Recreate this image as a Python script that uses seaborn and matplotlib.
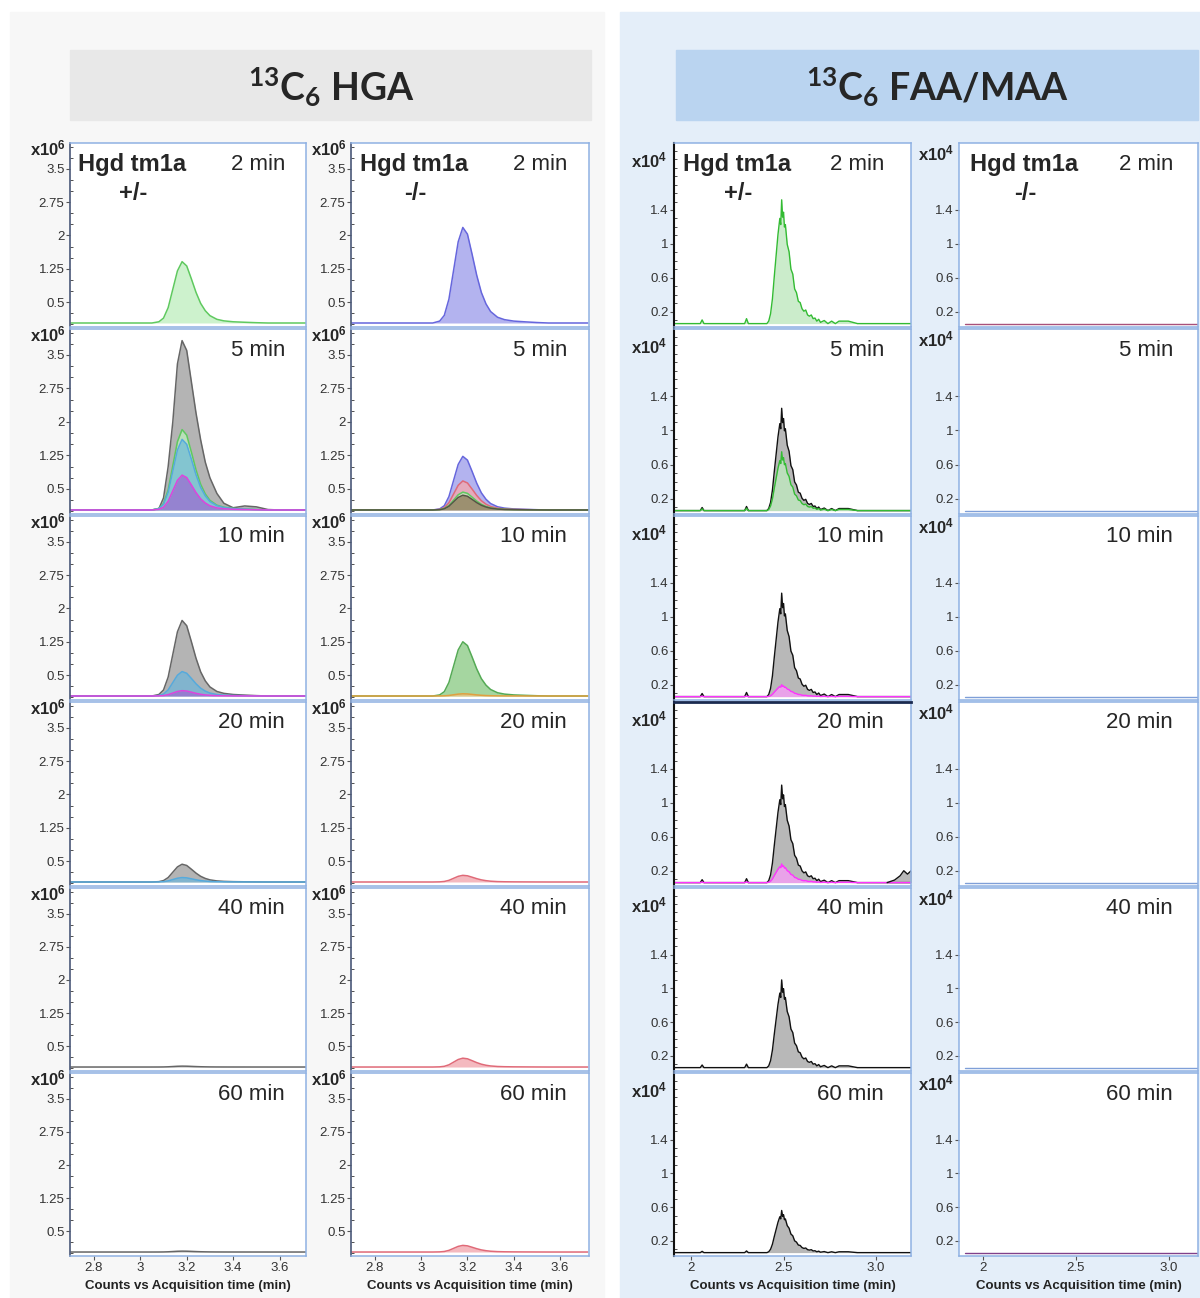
import numpy as np
import matplotlib
matplotlib.use('Agg')
import matplotlib.pyplot as plt
from matplotlib.patches import Rectangle
from matplotlib.ticker import MultipleLocator
import seaborn as sns

sns.set_style('white')
plt.rcParams['font.family'] = ['Liberation Sans', 'DejaVu Sans']
plt.rcParams['mathtext.default'] = 'regular'

W, H = 1200, 1298

# --- data ---
time_labels = ['2 min', '5 min', '10 min', '20 min', '40 min', '60 min']
genotypes = ['+/-', '-/-', '+/-', '-/-']

# HGA chromatograms (x10^6 counts)
hga_time = [2.70, 2.90, 3.00, 3.05, 3.08, 3.10, 3.12, 3.14, 3.16, 3.18, 3.20, 3.22,
            3.24, 3.26, 3.28, 3.30, 3.33, 3.36, 3.40, 3.45, 3.50, 3.55, 3.60, 3.72]
hga_shape = [0, 0, 0, 0, 0.02, 0.08, 0.25, 0.55, 0.85, 1.0, 0.93, 0.72,
             0.50, 0.32, 0.20, 0.12, 0.06, 0.035, 0.02, 0.012, 0.005, 0, 0, 0]
gray_5min = [0.03, 0.03, 0.03, 0.03, 0.06, 0.30, 1.00, 2.00, 3.30, 3.82, 3.60, 2.90,
             2.20, 1.60, 1.10, 0.75, 0.40, 0.18, 0.08, 0.12, 0.10, 0.04, 0.03, 0.03]
hga_base = 0.03

# FAA/MAA chromatograms (x10^4 counts)
faa_time = [1.90, 2.00, 2.05, 2.06, 2.07, 2.20, 2.29, 2.30, 2.31, 2.41,
            2.42, 2.43, 2.44, 2.45, 2.46, 2.47, 2.48, 2.485, 2.49, 2.495,
            2.50, 2.505, 2.51, 2.52, 2.53, 2.54, 2.55, 2.56, 2.57, 2.58,
            2.59, 2.60, 2.61, 2.62, 2.63, 2.64, 2.65, 2.66, 2.67, 2.68,
            2.69, 2.70, 2.72, 2.74, 2.76, 2.78, 2.80, 2.85, 2.90, 2.95,
            3.00, 3.05, 3.10, 3.15, 3.20]
faa_shape = [0, 0, 0, 0.03, 0, 0, 0, 0.04, 0, 0,
             0.02, 0.08, 0.20, 0.38, 0.55, 0.72, 0.85, 0.80, 1.00, 0.86,
             0.90, 0.78, 0.80, 0.64, 0.58, 0.44, 0.40, 0.28, 0.25, 0.18,
             0.17, 0.12, 0.10, 0.11, 0.07, 0.06, 0.07, 0.04, 0.045, 0.02,
             0.035, 0.01, 0.025, 0.0, 0.02, 0.0, 0.02, 0.02, 0, 0,
             0, 0, 0, 0, 0]
faa_base = 0.06
tail_time = [3.06, 3.10, 3.13, 3.15, 3.17, 3.20]
tail_black = [0.06, 0.09, 0.14, 0.20, 0.16, 0.22]

# (trace, peak height) for each row, per column
hga_het = [
    [('green', 1.38)],
    [('gray5', 1.0), ('green', 1.80), ('lblue', 1.58), ('magenta', 0.78)],
    [('gray', 1.70), ('lblue', 0.55), ('magenta', 0.12)],
    [('gray', 0.40), ('lblue', 0.10)],
    [('gray', 0.02)],
    [('gray', 0.02)],
]
hga_ko = [
    [('violet', 2.15)],
    [('violet', 1.20), ('red', 0.65), ('green', 0.40), ('brown', 0.33)],
    [('green2', 1.22), ('orange', 0.05)],
    [('red', 0.15)],
    [('red', 0.20)],
    [('red', 0.15)],
]
faa_het = [
    [('fgreen', 1.46)],
    [('black', 1.20), ('fgreen', 0.69)],
    [('black', 1.22), ('fmag', 0.14)],
    [('black', 1.15), ('fmag', 0.22)],
    [('black', 1.04)],
    [('black', 0.50)],
]
faa_ko = [[('flat_red', 0.0)], [('flat_blue', 0.0)], [('flat_blue', 0.0)],
          [('flat_blue', 0.0)], [('flat_blue', 0.0)], [('flat_purple', 0.0)]]

# line colour, fill colour, fill alpha
styles = {
    'green': ('#5fc95f', '#bdeebd', 0.75),
    'green2': ('#55aa55', '#a5d6a0', 1.0),
    'lblue': ('#55aadd', '#5fb5e0', 0.6),
    'magenta': ('#dd44dd', '#a060d0', 0.65),
    'gray': ('#666666', '#b4b4b4', 1.0),
    'gray5': ('#666666', '#b4b4b4', 1.0),
    'violet': ('#6666dd', '#b3b3ef', 1.0),
    'red': ('#e06a78', '#f2a8b0', 0.8),
    'brown': ('#555544', '#8a7050', 0.7),
    'orange': ('#e0a040', '#f0c080', 0.8),
    'fgreen': ('#33bb33', '#bfe8bf', 0.8),
    'black': ('#111111', '#b8b8b8', 1.0),
    'fmag': ('#ff33ff', '#ff99ff', 0.7),
    'flat_red': ('#a8507a', '#ffffff', 0.0),
    'flat_blue': ('#7f9fd8', '#ffffff', 0.0),
    'flat_purple': ('#80408a', '#ffffff', 0.0),
}

cols = [(70, 306), (351, 589), (674, 911), (959, 1198)]
rows = [(143, 327), (329, 514), (516, 700), (702, 886), (888, 1071), (1073, 1256)]
xlims = [(2.697, 3.714), (2.697, 3.725), (1.908, 3.189), (1.870, 3.157)]

fig = plt.figure(figsize=(W / 100, H / 100), dpi=100)

# section backgrounds and header boxes
fig.patches.append(Rectangle((10 / W, 0), 594 / W, 1 - 12 / H, transform=fig.transFigure,
                             color='#f7f7f7', zorder=-10))
fig.patches.append(Rectangle((620 / W, 0), 580 / W, 1 - 12 / H, transform=fig.transFigure,
                             color='#e4eef9', zorder=-10))
fig.patches.append(Rectangle((70 / W, 1 - 120 / H), 521 / W, 70 / H, transform=fig.transFigure,
                             color='#e8e8e8', zorder=-9))
fig.patches.append(Rectangle((676 / W, 1 - 120 / H), 522 / W, 70 / H, transform=fig.transFigure,
                             color='#bad4f0', zorder=-9))
fig.text(331 / W, 1 - 87 / H, r'$^{13}$C$_6$ HGA', family=['Lato', 'DejaVu Sans'],
         weight='bold', fontsize=27, ha='center', va='center')
fig.text(937 / W, 1 - 87 / H, r'$^{13}$C$_6$ FAA/MAA', family=['Lato', 'DejaVu Sans'],
         weight='bold', fontsize=27, ha='center', va='center')


def draw_trace(ax, kind, h, is_faa):
    line, fill, alpha = styles[kind]
    if is_faa:
        t = np.array(faa_time)
        y = faa_base + h * np.array(faa_shape)
        base = faa_base
        if kind.startswith('flat'):
            y = np.full(len(t), 0.05)
    else:
        t = np.array(hga_time)
        base = hga_base
        if kind == 'gray5':
            y = np.array(gray_5min)
        else:
            y = hga_base + h * np.array(hga_shape)
    if alpha > 0:
        ax.fill_between(t, base, y, color=fill, alpha=alpha, lw=0)
    sns.lineplot(x=t, y=y, ax=ax, color=line, lw=1.1 if not is_faa else 1.0,
                 estimator=None, sort=False)


panel_sets = [hga_het, hga_ko, faa_het, faa_ko]
exp_pos = [(66, 5, 'x10$^6$'), (347, 5, 'x10$^6$'), (667, 17, 'x10$^4$'), (954, 10, 'x10$^4$')]
label_left = [78, 360, 683, 970]
geno_x = [133, 415, 738, 1025]
time_right = [285, 567, 884, 1173]

for c, (x0, x1) in enumerate(cols):
    is_faa = c >= 2
    for r, (y0, y1) in enumerate(rows):
        ax = fig.add_axes([x0 / W, 1 - y1 / H, (x1 - x0) / W, (y1 - y0) / H])
        ax.set_facecolor('white')
        for kind, h in panel_sets[c][r]:
            draw_trace(ax, kind, h, is_faa)
        if c == 2 and r == 3:
            ax.fill_between(tail_time, faa_base, tail_black, color='#b8b8b8', lw=0)
            sns.lineplot(x=tail_time, y=tail_black, ax=ax, color='#111111', lw=1.0,
                         estimator=None, sort=False)

        ax.set_xlim(*xlims[c])
        if is_faa:
            ax.set_ylim(0.02, 2.19)
            ax.set_yticks([0.2, 0.6, 1, 1.4])
            ax.set_yticklabels(['0.2', '0.6', '1', '1.4'])
            ax.yaxis.set_minor_locator(MultipleLocator(0.1))
            ax.set_xticks([2, 2.5, 3.0])
            ax.set_xticklabels(['2', '2.5', '3.0'])
        else:
            ax.set_ylim(-0.06, 4.08)
            ax.set_yticks([0.5, 1.25, 2, 2.75, 3.5])
            ax.set_yticklabels(['0.5', '1.25', '2', '2.75', '3.5'])
            ax.yaxis.set_minor_locator(MultipleLocator(0.25))
            ax.set_xticks([2.8, 3, 3.2, 3.4, 3.6])
            ax.set_xticklabels(['2.8', '3', '3.2', '3.4', '3.6'])
        ax.set_xlabel('')
        ax.set_ylabel('')

        for s in ax.spines.values():
            s.set_visible(True)
            s.set_color('#8fb1e3')
            s.set_linewidth(1.1)
        if c < 2:
            ax.spines['left'].set_color('#4a5878')
            ax.spines['left'].set_linewidth(1.2)
        elif c == 2:
            ax.spines['left'].set_color('#111111')
            ax.spines['left'].set_linewidth(1.5)
        if c == 2 and r == 3:
            ax.spines['top'].set_color('#1a2a50')
            ax.spines['top'].set_linewidth(2)

        ax.tick_params(axis='y', which='major', left=True, direction='out', length=3,
                       width=0.8, color='#555555', labelsize=9.5, labelcolor='#333333', pad=1)
        ax.tick_params(axis='y', which='minor', left=(c < 3), direction='in', length=2,
                       width=0.6, color='#333333')
        if r == len(rows) - 1:
            ax.tick_params(axis='x', bottom=True, direction='out', length=3, width=0.8,
                           color='#555555', labelsize=9.5, labelcolor='#333333', pad=1)
            fig.text((x0 + x1) / 2 / W, 1 - 1286 / H, 'Counts vs Acquisition time (min)',
                     fontsize=9.5, weight='bold', color='#222222', ha='center', va='center')
        else:
            ax.tick_params(axis='x', bottom=False, labelbottom=False)

        ex, ey, etxt = exp_pos[c]
        fig.text(ex / W, 1 - (y0 + ey) / H, etxt, fontsize=12, weight='bold',
                 ha='right', va='center')
        fig.text(time_right[c] / W, 1 - (y0 + 21) / H, time_labels[r], fontsize=16,
                 ha='right', va='center')
        if r == 0:
            fig.text(label_left[c] / W, 1 - (y0 + 21) / H, 'Hgd tm1a', fontsize=17,
                     weight='bold', ha='left', va='center')
            fig.text(geno_x[c] / W, 1 - (y0 + 50) / H, genotypes[c], fontsize=17,
                     weight='bold', ha='center', va='center')

fig.savefig('out.png', dpi=100)
